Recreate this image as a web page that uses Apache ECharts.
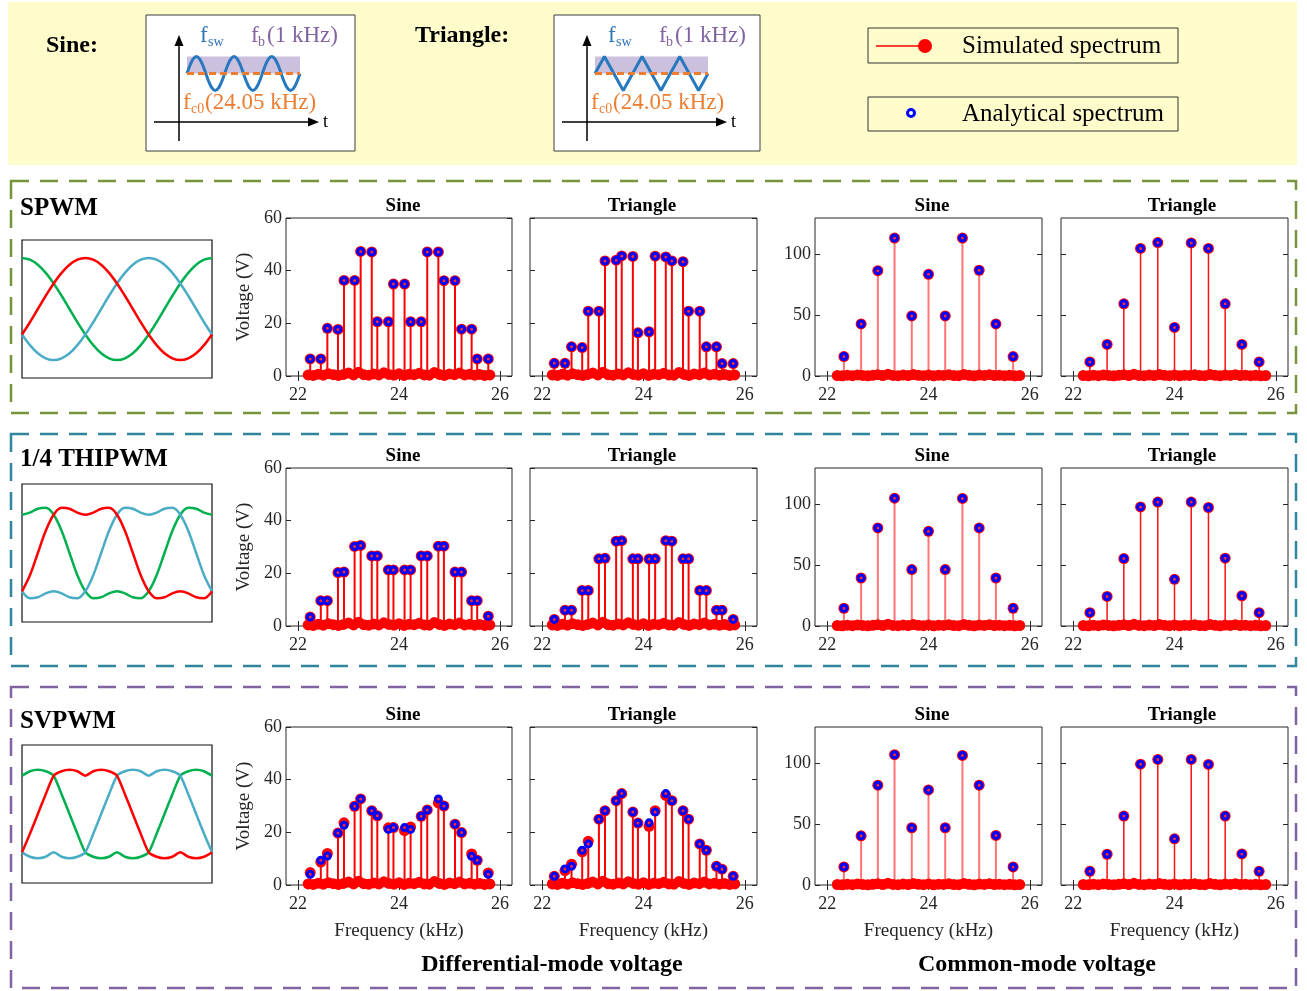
<!DOCTYPE html>
<html>
<head>
<meta charset="utf-8">
<script src="https://cdn.jsdelivr.net/npm/echarts@6/dist/echarts.min.js"></script>
<style>
  html, body { margin: 0; padding: 0; background: #fff; }
  #chart { width: 1307px; height: 991px; }
</style>
</head>
<body>
<div id="chart"></div>
<script>
// ---- data ----
const xTicks = [22, 24, 26];
const dmTicks = [0, 20, 40, 60];
const cmTicks = [0, 50, 100];

// sideband frequencies (kHz)
const dmFreq = [22.24, 22.45, 22.58, 22.79, 22.91, 23.12, 23.24, 23.46, 23.57, 23.79, 23.89,
                24.11, 24.23, 24.44, 24.56, 24.78, 24.89, 25.11, 25.24, 25.44, 25.55, 25.77];
const cmFreq = [22.33, 22.67, 23.0, 23.33, 23.67, 24.0, 24.33, 24.67, 25.0, 25.33, 25.67];

// simulated noise floor (red band at the bottom)
const floorFreq = [22.2, 22.3, 22.4, 22.5, 22.6, 22.7, 22.8, 22.9, 23.0, 23.1, 23.2, 23.3, 23.4,
                   23.5, 23.6, 23.7, 23.8, 23.9, 24.0, 24.1, 24.2, 24.3, 24.4, 24.5, 24.6, 24.7,
                   24.8, 24.9, 25.0, 25.1, 25.2, 25.3, 25.4, 25.5, 25.6, 25.7, 25.8];
const floorVolt = [0.4, 0.2, 0.7, 0.3, 0.9, 0.5, 0.2, 0.6, 1.1, 0.4, 1.4, 0.5, 0.3, 0.8, 0.4, 1.2,
                   0.6, 0.3, 0.9, 0.2, 0.7, 0.5, 1.0, 0.4, 0.3, 1.3, 0.6, 0.2, 0.8, 0.5, 1.1, 0.4,
                   0.7, 0.3, 0.6, 0.2, 0.4];

// differential-mode voltage (V)
const spwmDmSine = [6.5, 6.5, 18.1, 17.7, 36.3, 36.3, 47.3, 47.1, 20.6, 20.6, 34.9, 34.9, 20.6, 20.6, 47.1, 47.1, 36.2, 36.2, 17.8, 17.8, 6.5, 6.5];
const spwmDmTri  = [4.8, 4.8, 11.1, 10.8, 24.6, 24.6, 43.7, 44.0, 45.6, 45.4, 16.4, 16.8, 45.5, 45.2, 43.7, 43.4, 24.6, 24.6, 11.1, 11.1, 4.7, 4.7];
const thiDmSine  = [3.4, 9.6, 9.6, 20.3, 20.5, 30.2, 30.6, 26.6, 26.6, 21.3, 21.3, 21.3, 21.3, 26.6, 26.6, 30.3, 30.3, 20.5, 20.5, 9.6, 9.6, 3.7];
const thiDmTri   = [2.5, 6.0, 6.0, 13.5, 13.5, 25.5, 25.7, 32.2, 32.4, 25.5, 25.5, 25.4, 25.5, 32.4, 32.2, 25.5, 25.5, 13.5, 13.5, 6.0, 6.0, 2.5];
const svDmSineSim = [4.7, 8.7, 12.0, 19.7, 23.6, 29.9, 32.7, 28.2, 26.3, 21.7, 21.8, 20.7, 22.0, 26.1, 28.5, 31.2, 30.0, 23.1, 19.9, 11.8, 9.4, 4.6];
const svDmSineAna = [4.1, 9.4, 11.0, 19.7, 22.7, 29.9, 32.7, 28.2, 26.3, 21.1, 21.8, 21.8, 21.1, 26.1, 28.5, 32.7, 30.0, 23.1, 19.9, 10.9, 9.4, 4.1];
const svDmTriSim = [3.3, 5.5, 7.9, 12.6, 16.6, 25.0, 28.2, 32.0, 34.7, 27.7, 23.5, 22.3, 28.2, 34.0, 32.0, 28.2, 25.0, 15.6, 13.2, 7.1, 6.0, 3.3];
const svDmTriAna = [3.3, 6.1, 7.1, 13.2, 15.6, 25.0, 28.2, 32.0, 34.7, 27.7, 23.5, 23.6, 27.7, 34.7, 32.0, 28.2, 25.0, 15.6, 13.2, 7.1, 6.0, 3.3];

// common-mode voltage (V)
const spwmCmSine = [16, 42.8, 86.7, 113.5, 49.4, 83.7, 49.4, 113.5, 87, 42.8, 16];
const spwmCmTri  = [11.6, 26, 59.4, 105, 109.8, 40, 109.5, 105, 59.4, 26, 11.6];
const thiCmSine  = [14.6, 39.5, 80.7, 105.2, 46.4, 77.9, 46.4, 105, 80.7, 39.5, 14.6];
const thiCmTri   = [11, 24.3, 55.5, 98, 102, 38.4, 102, 97.5, 55.8, 24.9, 11];
const svCmSine   = [14.9, 40.5, 82.1, 107.2, 47.1, 78.2, 47.1, 106.6, 82.1, 40.8, 14.9];
const svCmTri    = [11.3, 25.3, 56.7, 99.4, 103.3, 38, 103.3, 99.2, 56.7, 25.6, 11.3];

// modulating waves, one period sampled every 15 deg (0..345)
const waveSpwm = [0, 0.259, 0.5, 0.707, 0.866, 0.966, 1, 0.966, 0.866, 0.707, 0.5, 0.259,
                  0, -0.259, -0.5, -0.707, -0.866, -0.966, -1, -0.966, -0.866, -0.707, -0.5, -0.259];
const waveThi  = [0, 0.436, 0.75, 0.884, 0.866, 0.789, 0.75, 0.789, 0.866, 0.884, 0.75, 0.436,
                  0, -0.436, -0.75, -0.884, -0.866, -0.789, -0.75, -0.789, -0.866, -0.884, -0.75, -0.436];
const waveSv   = [0, 0.388, 0.75, 0.837, 0.866, 0.837, 0.75, 0.837, 0.866, 0.837, 0.75, 0.388,
                  0, -0.388, -0.75, -0.837, -0.866, -0.837, -0.75, -0.837, -0.866, -0.837, -0.75, -0.388];

// carrier sketches: one period each
const carrierSine = [0, 0.5, 0.866, 1, 0.866, 0.5, 0, -0.5, -0.866, -1, -0.866, -0.5];
const carrierTri  = [0, 1, 0, -1];

// ---- layout ----
const FONT = '"Liberation Serif", "Times New Roman", serif';
const INK = '#262626';
const XMIN = 21.76, XMAX = 26.24;
const rowTops = [218, 468, 727];
const PH = 158;

const cols = [
  { left: 286, width: 226, ymax: 60, yTicks: dmTicks, yLabels: true, yName: 'Voltage (V)', title: 'Sine', titleX: 403, stem: '#ff0000', stemW: 2 },
  { left: 530, width: 227, ymax: 60, yTicks: dmTicks, yLabels: false, yName: '', title: 'Triangle', titleX: 642, stem: '#ff0000', stemW: 2 },
  { left: 815, width: 227, ymax: 130, yTicks: cmTicks, yLabels: true, yName: '', title: 'Sine', titleX: 932, stem: '#ff7474', stemW: 2 },
  { left: 1061, width: 227, ymax: 130, yTicks: cmTicks, yLabels: false, yName: '', title: 'Triangle', titleX: 1182, stem: '#ff1010', stemW: 1.5 }
];

// row, col, freq, simulated, analytical
const panels = [
  [0, 0, dmFreq, spwmDmSine, spwmDmSine], [0, 1, dmFreq, spwmDmTri, spwmDmTri],
  [0, 2, cmFreq, spwmCmSine, spwmCmSine], [0, 3, cmFreq, spwmCmTri, spwmCmTri],
  [1, 0, dmFreq, thiDmSine, thiDmSine], [1, 1, dmFreq, thiDmTri, thiDmTri],
  [1, 2, cmFreq, thiCmSine, thiCmSine], [1, 3, cmFreq, thiCmTri, thiCmTri],
  [2, 0, dmFreq, svDmSineSim, svDmSineAna], [2, 1, dmFreq, svDmTriSim, svDmTriAna],
  [2, 2, cmFreq, svCmSine, svCmSine], [2, 3, cmFreq, svCmTri, svCmTri]
];

const grids = [], xAxes = [], yAxes = [], series = [], gfx = [];

const tick = (vals) => ({ inside: true, length: 5, customValues: vals, lineStyle: { color: INK, width: 1 } });
const lbl = { color: INK, fontSize: 18, fontFamily: FONT };

panels.forEach(([row, col, freq, sim, ana]) => {
  const C = cols[col];
  const top = rowTops[row];
  grids.push({ left: C.left, top: top, width: C.width, height: PH, show: true,
    borderColor: INK, borderWidth: 1, backgroundColor: '#fff' });
  const g = grids.length - 1;
  const xi = xAxes.length, yi = yAxes.length;

  xAxes.push({ gridIndex: g, type: 'value', min: XMIN, max: XMAX, position: 'bottom',
    axisLine: { show: false }, splitLine: { show: false }, axisTick: tick(xTicks),
    axisLabel: Object.assign({ customValues: xTicks, margin: 10 }, lbl),
    name: row === 2 ? 'Frequency (kHz)' : '', nameLocation: 'middle', nameGap: 37,
    nameTextStyle: { color: INK, fontSize: 19, fontFamily: FONT } });
  xAxes.push({ gridIndex: g, type: 'value', min: XMIN, max: XMAX, position: 'top',
    axisLine: { show: false }, splitLine: { show: false }, axisTick: tick(xTicks), axisLabel: { show: false } });

  yAxes.push({ gridIndex: g, type: 'value', min: 0, max: C.ymax, position: 'left',
    axisLine: { show: false }, splitLine: { show: false }, axisTick: tick(C.yTicks),
    axisLabel: Object.assign({ show: C.yLabels, customValues: C.yTicks, margin: 4 }, lbl),
    name: C.yName, nameLocation: 'middle', nameGap: 32, nameRotate: 90,
    nameTextStyle: { color: INK, fontSize: 19, fontFamily: FONT } });
  yAxes.push({ gridIndex: g, type: 'value', min: 0, max: C.ymax, position: 'right',
    axisLine: { show: false }, splitLine: { show: false }, axisTick: tick(C.yTicks), axisLabel: { show: false } });

  // stems
  series.push({ type: 'bar', xAxisIndex: xi, yAxisIndex: yi, barWidth: C.stemW, silent: true,
    itemStyle: { color: C.stem }, data: freq.map((f, k) => [f, sim[k]]) });
  // simulated markers (noise floor + peaks)
  const simPts = floorFreq.map((f, k) => [f, floorVolt[k]]).concat(freq.map((f, k) => [f, sim[k]]));
  series.push({ type: 'scatter', xAxisIndex: xi, yAxisIndex: yi, symbol: 'circle', symbolSize: 11,
    clip: false, silent: true, itemStyle: { color: '#ff0000', opacity: 1 }, data: simPts });
  // analytical markers
  series.push({ type: 'scatter', xAxisIndex: xi, yAxisIndex: yi, symbol: 'circle', symbolSize: 6,
    clip: false, silent: true,
    itemStyle: { color: '#ff2a2a', borderColor: '#0000ff', borderWidth: 3, opacity: 1 },
    data: freq.map((f, k) => [f, ana[k]]) });

  gfx.push(txt(C.title, C.titleX, top - 12, 'bold 19px ' + FONT, '#000', 'center'));
});

function txt(text, x, y, font, fill, align) {
  return { type: 'text', z: 100, x: x, y: y,
    style: { text: text, font: font, fill: fill, align: align || 'left', verticalAlign: 'middle' } };
}

function addPlainGrid(left, top, width, height, xr, yr, boxed) {
  grids.push({ left, top, width, height, show: boxed, borderColor: '#111', borderWidth: 1.2, backgroundColor: '#fff' });
  const g = grids.length - 1;
  xAxes.push({ gridIndex: g, type: 'value', min: xr[0], max: xr[1], show: false });
  yAxes.push({ gridIndex: g, type: 'value', min: yr[0], max: yr[1], show: false });
  return [xAxes.length - 1, yAxes.length - 1];
}

// three-phase modulating waves (phase shift of 120 deg = 8 samples)
function phase(wave, shift) {
  const out = [];
  for (let i = 0; i <= 24; i++) {
    const idx = (((i - 2 + shift) % 24) + 24) % 24; // first sample at -30 deg
    out.push([-30 + 15 * i, wave[idx]]);
  }
  return out;
}

const schemes = [
  { name: 'SPWM', wave: waveSpwm, labelY: 209, top: 240, smooth: 0.4 },
  { name: '1/4 THIPWM', wave: waveThi, labelY: 460, top: 484, smooth: 0.35 },
  { name: 'SVPWM', wave: waveSv, labelY: 722, top: 745, smooth: 0.2 }
];
schemes.forEach(s => {
  const [xi, yi] = addPlainGrid(22, s.top, 190, 138, [-30, 330], [-1.35, 1.35], true);
  [['#00b050', 8], ['#4bacc6', -8], ['#ff0000', 0]].forEach(([color, sh]) => {
    series.push({ type: 'line', xAxisIndex: xi, yAxisIndex: yi, showSymbol: false, smooth: s.smooth,
      silent: true, lineStyle: { color: color, width: 2.5 }, data: phase(s.wave, sh) });
  });
  gfx.push(txt(s.name, 20, s.labelY, 'bold 25px ' + FONT, '#000', 'left'));
});

// carrier sketches in the top boxes
function repeat3(period) {
  const out = [];
  for (let i = 0; i <= period.length * 3; i++) out.push([i, period[i % period.length]]);
  return out;
}
[[187, carrierSine, 0.4], [595, carrierTri, false]].forEach(([left, period, smooth]) => {
  const [xi, yi] = addPlainGrid(left, 48, 113, 51, [0, period.length * 3], [-1.5, 1.5], false);
  series.push({ type: 'line', xAxisIndex: xi, yAxisIndex: yi, showSymbol: false, smooth: smooth, silent: true,
    lineStyle: { color: '#2778be', width: 3 }, data: repeat3(period),
    markArea: { silent: true, itemStyle: { color: '#cbc1de', opacity: 1 }, data: [[{ yAxis: 0 }, { yAxis: 1 }]] },
    markLine: { silent: true, symbol: 'none', label: { show: false },
      lineStyle: { color: '#ed7d31', width: 3, type: [7, 4] }, data: [{ yAxis: 0 }] } });
});

// ---- decorations ----
const rect = (x, y, w, h, style, z) => ({ type: 'rect', z: z, shape: { x, y, width: w, height: h }, style: style });
gfx.push(rect(8, 2, 1289, 163, { fill: '#fefccb' }, -10));
gfx.push(rect(146, 15, 209, 136, { fill: '#fff', stroke: '#3c3c3c', lineWidth: 1 }, -9));
gfx.push(rect(554, 15, 206, 136, { fill: '#fff', stroke: '#3c3c3c', lineWidth: 1 }, -9));

[0, 408].forEach(dx => {
  gfx.push({ type: 'line', z: 100, shape: { x1: 179 + dx, y1: 141, x2: 179 + dx, y2: 44 }, style: { stroke: '#000', lineWidth: 1.5 } });
  gfx.push({ type: 'polygon', z: 100, shape: { points: [[179 + dx, 35], [174.5 + dx, 46], [183.5 + dx, 46]] }, style: { fill: '#000' } });
  gfx.push({ type: 'line', z: 100, shape: { x1: 154 + dx, y1: 122, x2: 310 + dx, y2: 122 }, style: { stroke: '#000', lineWidth: 1.5 } });
  gfx.push({ type: 'polygon', z: 100, shape: { points: [[319 + dx, 122], [308 + dx, 117.5], [308 + dx, 126.5]] }, style: { fill: '#000' } });
  gfx.push(txt('t', 323 + dx, 122, '18px ' + FONT, '#000'));
  gfx.push(txt('f', 200 + dx, 36, '23px ' + FONT, '#2e75b6'));
  gfx.push(txt('sw', 208 + dx, 42, '14px ' + FONT, '#2e75b6'));
  gfx.push(txt('f', 251 + dx, 36, '23px ' + FONT, '#8064a2'));
  gfx.push(txt('b', 258 + dx, 42, '14px ' + FONT, '#8064a2'));
  gfx.push(txt('(1 kHz)', 267 + dx, 36, '23px ' + FONT, '#8064a2'));
  gfx.push(txt('f', 183 + dx, 103, '23px ' + FONT, '#ed7d31'));
  gfx.push(txt('c0', 191 + dx, 109, '14px ' + FONT, '#ed7d31'));
  gfx.push(txt('(24.05 kHz)', 205 + dx, 103, '23px ' + FONT, '#ed7d31'));
});
gfx.push(txt('Sine:', 46, 46, 'bold 24px ' + FONT, '#000'));
gfx.push(txt('Triangle:', 415, 36, 'bold 24px ' + FONT, '#000'));

// legend
gfx.push(rect(868, 28, 310, 35, { fill: null, stroke: '#333', lineWidth: 1 }, 100));
gfx.push(rect(868, 97, 310, 34, { fill: null, stroke: '#333', lineWidth: 1 }, 100));
gfx.push({ type: 'line', z: 100, shape: { x1: 876, y1: 46, x2: 925, y2: 46 }, style: { stroke: '#ff0000', lineWidth: 1.5 } });
gfx.push({ type: 'circle', z: 101, shape: { cx: 925, cy: 46, r: 7 }, style: { fill: '#ff0000' } });
gfx.push({ type: 'circle', z: 101, shape: { cx: 911, cy: 113, r: 3.5 }, style: { fill: '#fff', stroke: '#0000ff', lineWidth: 3 } });
gfx.push(txt('Simulated spectrum', 962, 46, '25px ' + FONT, '#000'));
gfx.push(txt('Analytical spectrum', 962, 114, '25px ' + FONT, '#000'));

// dashed group frames
gfx.push(rect(11, 181, 1285, 232, { fill: null, stroke: '#77933c', lineWidth: 2.5, lineDash: [18, 11] }, 100));
gfx.push(rect(11, 434, 1285, 232, { fill: null, stroke: '#31859c', lineWidth: 2.5, lineDash: [18, 11] }, 100));
gfx.push(rect(11, 687, 1285, 301, { fill: null, stroke: '#8064a2', lineWidth: 2.5, lineDash: [18, 11] }, 100));

gfx.push(txt('Differential-mode voltage', 552, 965, 'bold 24px ' + FONT, '#000', 'center'));
gfx.push(txt('Common-mode voltage', 1037, 965, 'bold 24px ' + FONT, '#000', 'center'));

const chart = echarts.init(document.getElementById('chart'), null, { renderer: 'canvas' });
chart.setOption({
  animation: false,
  textStyle: { fontFamily: FONT },
  grid: grids,
  xAxis: xAxes,
  yAxis: yAxes,
  series: series,
  graphic: { elements: gfx }
});
</script>
</body>
</html>
